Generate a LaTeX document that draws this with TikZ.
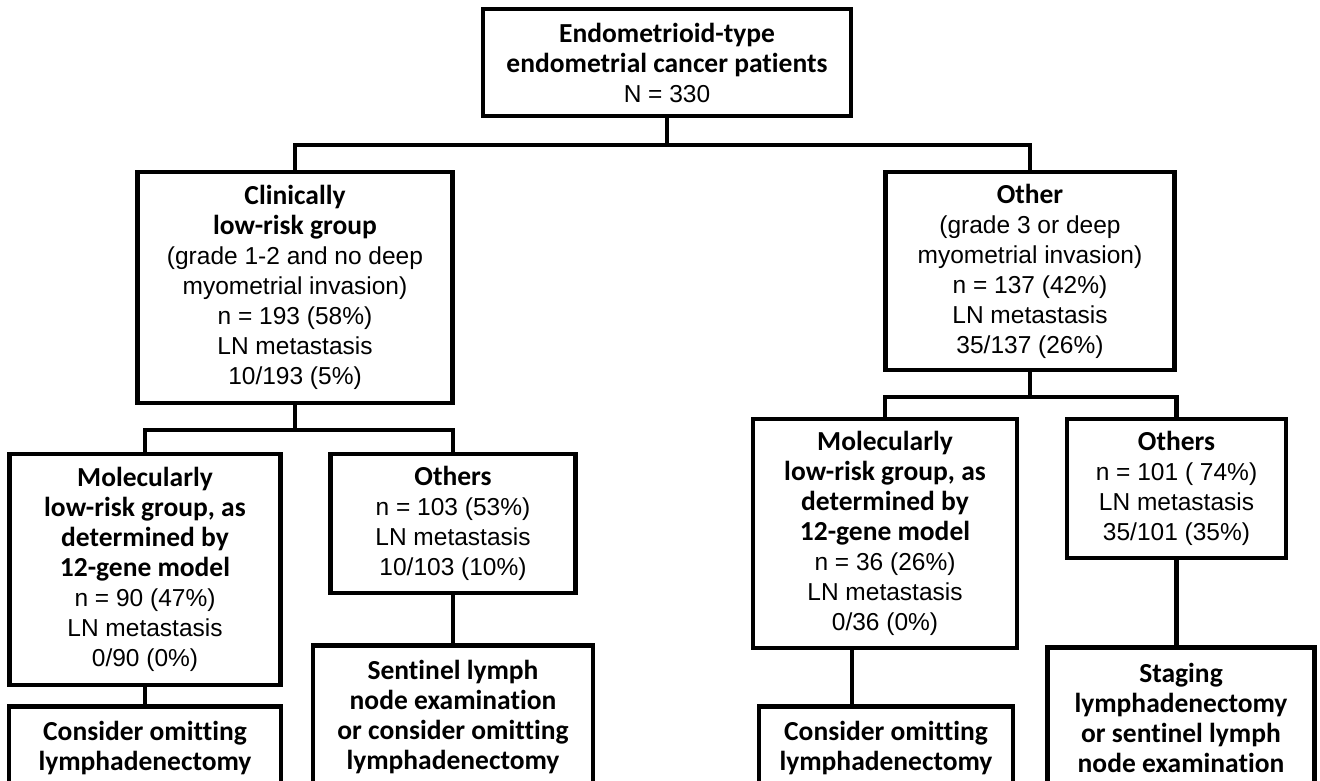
\documentclass[tikz,border=0pt]{standalone}
\usepackage{fontspec}
\setmainfont{Liberation Sans}
\newfontfamily\carlito{Carlito}[Ligatures={NoCommon,NoRare,NoDiscretionary}]
\newcommand\regf{\fontsize{24.5}{30}\selectfont}
\newcommand\hb[1]{{\carlito\bfseries\fontsize{27.5}{30}\selectfont #1}}
\tikzset{
  box/.style={draw, line width=4.5pt, inner sep=0pt, align=center, font=\regf},
  conn/.style={line width=4.5pt},
}
\begin{document}
\begin{tikzpicture}[x=1pt, y=-1pt]
\clip (0,0) rectangle (1320,781);
\fill[white] (0,0) rectangle (1320,781);

\node[box, minimum width=368pt, minimum height=107pt] (top) at (667,62.5)
  {\hb{Endometrioid-type}\\ \hb{endometrial cancer patients}\\ N = 330};

\node[box, minimum width=315pt, minimum height=231pt] (clin) at (295,287.5)
  {\hb{Clinically}\\ \hb{low-risk group}\\ (grade 1-2 and no deep\\ myometrial invasion)\\ n = 193 (58\%)\\ LN metastasis\\ 10/193 (5\%)};

\node[box, minimum width=289pt, minimum height=198pt] (other) at (1030,271)
  {\hb{Other}\\ (grade 3 or deep\\ myometrial invasion)\\ n = 137 (42\%)\\ LN metastasis\\ 35/137 (26\%)};

\node[box, minimum width=271pt, minimum height=231pt] (molL) at (145,569.5)
  {\hb{Molecularly}\\ \hb{low-risk group, as}\\ \hb{determined by}\\ \hb{12-gene model}\\ n = 90 (47\%)\\ LN metastasis\\ 0/90 (0\%)};

\node[box, minimum width=245pt, minimum height=139pt] (othL) at (453,523.5)
  {\hb{Others}\\ n = 103 (53\%)\\ LN metastasis\\ 10/103 (10\%)};

\node[box, minimum width=264pt, minimum height=229pt] (molR) at (885,533.5)
  {\hb{Molecularly}\\ \hb{low-risk group, as}\\ \hb{determined by}\\ \hb{12-gene model}\\ n = 36 (26\%)\\ LN metastasis\\ 0/36 (0\%)};

\node[box, minimum width=219pt, minimum height=139pt] (othR) at (1176.5,488.5)
  {\hb{Others}\\ n = 101 ( 74\%)\\ LN metastasis\\ 35/101 (35\%)};

\node[box, anchor=north, minimum width=272pt, minimum height=84pt] (consL) at (145,704)
  {\hb{Consider omitting}\\ \hb{lymphadenectomy}};

\node[box, anchor=north, minimum width=280pt, minimum height=144pt] (sentL) at (453,643)
  {\hb{Sentinel lymph}\\ \hb{node examination}\\ \hb{or consider omitting}\\ \hb{lymphadenectomy}};

\node[box, anchor=north, minimum width=254pt, minimum height=84pt] (consR) at (886,704)
  {\hb{Consider omitting}\\ \hb{lymphadenectomy}};

\node[box, anchor=north, minimum width=267pt, minimum height=142pt] (stagR) at (1181,645)
  {\hb{Staging}\\ \hb{lymphadenectomy}\\ \hb{or sentinel lymph}\\ \hb{node examination}};

\coordinate (hA) at (0,145);
\coordinate (hB) at (0,430);
\coordinate (hC) at (0,397);

\draw[conn] (top.south) -- (top.south |- hA);
\draw[conn] (clin.north) |- (other.north |- hA) -- (other.north);

\draw[conn] (clin.south) -- (clin.south |- hB);
\draw[conn] (molL.north) |- (othL.north |- hB) -- (othL.north);
\draw[conn] (othL.south) -- (othL.south |- sentL.north);
\draw[conn] (molL.south) -- (molL.south |- consL.north);

\draw[conn] (other.south) -- (other.south |- hC);
\draw[conn] (molR.north) |- (othR.north |- hC) -- (othR.north);
\draw[conn] ([xshift=-33pt]molR.south) -- ([xshift=-33pt]molR.south |- consR.north);
\draw[conn] (othR.south) -- (othR.south |- stagR.north);
\end{tikzpicture}
\end{document}
